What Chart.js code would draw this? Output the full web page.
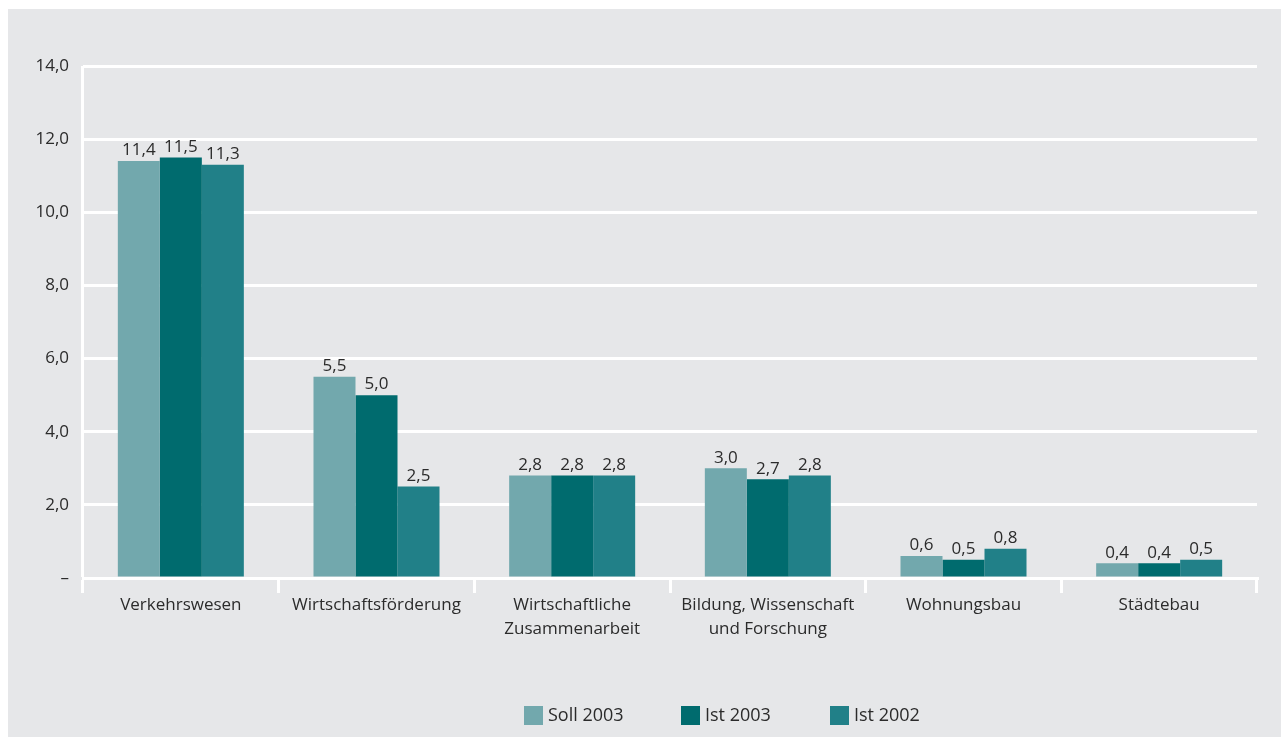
<!DOCTYPE html>
<html lang="de">
<head>
<meta charset="utf-8">
<title>Ausgaben nach Bereichen</title>
<script src="https://cdn.jsdelivr.net/npm/chart.js@4/dist/chart.umd.min.js"></script>
<style>
    html, body { margin: 0; padding: 0; background: #ffffff; }
    #wrap { position: relative; width: 1281px; height: 737px; }
</style>
</head>
<body>
<div id="wrap"><canvas id="barChart"></canvas></div>
<script>
// Kategorien und Werte (Mrd. EUR)
const categories = [
    'Verkehrswesen',
    'Wirtschaftsförderung',
    ['Wirtschaftliche', 'Zusammenarbeit'],
    ['Bildung, Wissenschaft', 'und Forschung'],
    'Wohnungsbau',
    'Städtebau'
];
const soll2003 = [11.4, 5.5, 2.8, 3.0, 0.6, 0.4];
const ist2003 = [11.5, 5.0, 2.8, 2.7, 0.5, 0.4];
const ist2002 = [11.3, 2.5, 2.8, 2.8, 0.8, 0.5];
const seriesLabels = ['Soll 2003', 'Ist 2003', 'Ist 2002'];
const yTicks = [0, 2, 4, 6, 8, 10, 12, 14];

const COLORS = {
    panel: '#e6e7e9',
    grid: '#ffffff',
    text: '#2b2b2b',
    soll: '#72a8ad',
    ist03: '#006b6e',
    ist02: '#218088'
};
const FONT = '"Open Sans", "DejaVu Sans", sans-serif';

const fmt = v => v.toFixed(1).replace('.', ',');

// Grauer Hintergrund mit weissem Rand oben/links
const panelPlugin = {
    id: 'panel',
    beforeDraw(chart) {
        const c = chart.ctx;
        c.save();
        c.fillStyle = '#ffffff';
        c.fillRect(0, 0, chart.width, chart.height);
        c.fillStyle = COLORS.panel;
        c.fillRect(8, 9, chart.width - 8, chart.height - 9);
        c.restore();
    }
};

// Werte über den Balken
const valueLabels = {
    id: 'valueLabels',
    afterDatasetsDraw(chart) {
        const c = chart.ctx;
        c.save();
        c.font = '17px ' + FONT;
        c.fillStyle = COLORS.text;
        c.textAlign = 'center';
        c.textBaseline = 'bottom';
        chart.data.datasets.forEach((ds, i) => {
            chart.getDatasetMeta(i).data.forEach((bar, j) => {
                c.fillText(fmt(ds.data[j]), bar.x, bar.y - 2);
            });
        });
        c.restore();
    }
};

// Legende unten
const bottomLegend = {
    id: 'bottomLegend',
    afterDraw(chart) {
        const c = chart.ctx;
        const xs = [524, 681, 830];
        const y = 706;
        c.save();
        c.font = '18px ' + FONT;
        c.textBaseline = 'middle';
        chart.data.datasets.forEach((ds, i) => {
            c.fillStyle = ds.backgroundColor;
            c.fillRect(xs[i], y, 19, 19);
            c.fillStyle = COLORS.text;
            c.fillText(ds.label, xs[i] + 24, y + 10);
        });
        c.restore();
    }
};

new Chart(document.getElementById('barChart'), {
    type: 'bar',
    data: {
        labels: categories,
        datasets: [
            { label: seriesLabels[0], data: soll2003, backgroundColor: COLORS.soll },
            { label: seriesLabels[1], data: ist2003, backgroundColor: COLORS.ist03 },
            { label: seriesLabels[2], data: ist2002, backgroundColor: COLORS.ist02 }
        ]
    },
    options: {
        responsive: true,
        maintainAspectRatio: false,
        animation: false,
        layout: { padding: { left: 0, top: 66, right: 24, bottom: 0 } },
        datasets: {
            bar: { categoryPercentage: 0.644, barPercentage: 1.0 }
        },
        scales: {
            x: {
                offset: true,
                grid: {
                    offset: true,
                    color: ctx => (ctx.index === 0 || ctx.index === categories.length) ? COLORS.grid : 'rgba(0,0,0,0)',
                    tickColor: COLORS.grid,
                    lineWidth: 3,
                    tickLength: 15
                },
                border: { display: true, color: COLORS.grid, width: 3 },
                ticks: {
                    color: COLORS.text,
                    font: { family: FONT, size: 17, lineHeight: 1.4 },
                    padding: 0,
                    maxRotation: 0,
                    autoSkip: false
                },
                afterFit(scale) { scale.height = 159; }
            },
            y: {
                min: 0,
                max: 14,
                afterBuildTicks(scale) { scale.ticks = yTicks.map(v => ({ value: v })); },
                grid: {
                    color: COLORS.grid,
                    lineWidth: 3,
                    drawTicks: false
                },
                border: { display: false },
                ticks: {
                    color: COLORS.text,
                    font: { family: FONT, size: 17 },
                    padding: 14,
                    callback: v => v === 0 ? '–' : fmt(v)
                },
                afterFit(scale) { scale.width = 83; }
            }
        },
        plugins: {
            legend: { display: false },
            tooltip: { enabled: false }
        }
    },
    plugins: [panelPlugin, valueLabels, bottomLegend]
});
</script>
</body>
</html>
